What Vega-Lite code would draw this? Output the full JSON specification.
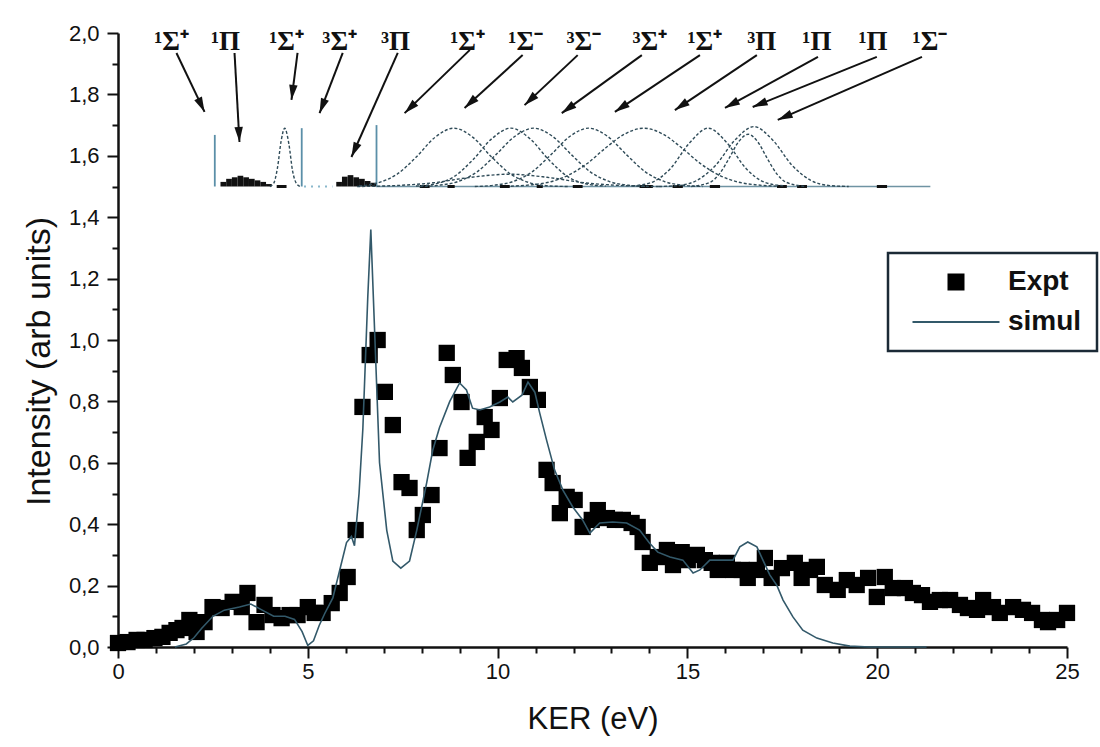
{
  "$schema": "https://vega.github.io/schema/vega-lite/v6.json",
  "width": 949,
  "height": 614,
  "autosize": {"type": "none"},
  "padding": {"left": 118, "top": 33, "right": 33, "bottom": 100},
  "background": "white",
  "config": {
    "view": {"stroke": null},
    "font": "Liberation Sans",
    "axis": {
      "grid": false,
      "domainColor": "#111111",
      "domainWidth": 2.5,
      "tickColor": "#111111",
      "tickWidth": 2,
      "labelColor": "#111111",
      "titleColor": "#111111",
      "labelFont": "Liberation Sans",
      "titleFont": "Liberation Sans",
      "labelFontSize": 22,
      "titleFontWeight": "normal",
      "labelFlush": false,
      "labelOverlap": false,
      "labelBound": false
    }
  },
  "datasets": {
    "expt": [
      {"x":0.0,"y":0.013,"series":"Expt"},{"x":0.25,"y":0.016,"series":"Expt"},{"x":0.49,"y":0.023,"series":"Expt"},{"x":0.70,"y":0.023,"series":"Expt"},{"x":0.96,"y":0.029,"series":"Expt"},{"x":1.17,"y":0.033,"series":"Expt"},{"x":1.36,"y":0.046,"series":"Expt"},{"x":1.54,"y":0.055,"series":"Expt"},{"x":1.70,"y":0.062,"series":"Expt"},{"x":1.88,"y":0.088,"series":"Expt"},
      {"x":2.07,"y":0.049,"series":"Expt"},{"x":2.28,"y":0.081,"series":"Expt"},{"x":2.49,"y":0.130,"series":"Expt"},{"x":2.73,"y":0.127,"series":"Expt"},{"x":3.02,"y":0.147,"series":"Expt"},{"x":3.26,"y":0.130,"series":"Expt"},{"x":3.41,"y":0.176,"series":"Expt"},{"x":3.65,"y":0.081,"series":"Expt"},{"x":3.86,"y":0.137,"series":"Expt"},{"x":4.07,"y":0.104,"series":"Expt"},
      {"x":4.31,"y":0.094,"series":"Expt"},{"x":4.52,"y":0.104,"series":"Expt"},{"x":4.73,"y":0.104,"series":"Expt"},{"x":5.00,"y":0.130,"series":"Expt"},{"x":5.18,"y":0.111,"series":"Expt"},{"x":5.39,"y":0.111,"series":"Expt"},{"x":5.63,"y":0.143,"series":"Expt"},{"x":5.84,"y":0.176,"series":"Expt"},{"x":6.05,"y":0.228,"series":"Expt"},{"x":6.26,"y":0.381,"series":"Expt"},
      {"x":6.44,"y":0.782,"series":"Expt"},{"x":6.63,"y":0.951,"series":"Expt"},{"x":6.84,"y":1.000,"series":"Expt"},{"x":7.03,"y":0.831,"series":"Expt"},{"x":7.24,"y":0.723,"series":"Expt"},{"x":7.47,"y":0.537,"series":"Expt"},{"x":7.68,"y":0.518,"series":"Expt"},{"x":7.87,"y":0.381,"series":"Expt"},{"x":8.03,"y":0.430,"series":"Expt"},{"x":8.26,"y":0.495,"series":"Expt"},
      {"x":8.47,"y":0.648,"series":"Expt"},{"x":8.66,"y":0.958,"series":"Expt"},{"x":8.82,"y":0.886,"series":"Expt"},{"x":9.05,"y":0.798,"series":"Expt"},{"x":9.21,"y":0.616,"series":"Expt"},{"x":9.45,"y":0.668,"series":"Expt"},{"x":9.66,"y":0.749,"series":"Expt"},{"x":9.84,"y":0.707,"series":"Expt"},{"x":10.06,"y":0.811,"series":"Expt"},{"x":10.24,"y":0.935,"series":"Expt"},
      {"x":10.50,"y":0.941,"series":"Expt"},{"x":10.64,"y":0.909,"series":"Expt"},{"x":10.85,"y":0.847,"series":"Expt"},{"x":11.06,"y":0.805,"series":"Expt"},{"x":11.29,"y":0.577,"series":"Expt"},{"x":11.45,"y":0.534,"series":"Expt"},{"x":11.64,"y":0.436,"series":"Expt"},{"x":11.82,"y":0.489,"series":"Expt"},{"x":12.03,"y":0.479,"series":"Expt"},{"x":12.24,"y":0.391,"series":"Expt"},
      {"x":12.48,"y":0.414,"series":"Expt"},{"x":12.64,"y":0.446,"series":"Expt"},{"x":12.88,"y":0.420,"series":"Expt"},{"x":13.09,"y":0.414,"series":"Expt"},{"x":13.30,"y":0.414,"series":"Expt"},{"x":13.53,"y":0.404,"series":"Expt"},{"x":13.69,"y":0.391,"series":"Expt"},{"x":13.82,"y":0.342,"series":"Expt"},{"x":14.01,"y":0.274,"series":"Expt"},{"x":14.22,"y":0.293,"series":"Expt"},
      {"x":14.46,"y":0.316,"series":"Expt"},{"x":14.62,"y":0.267,"series":"Expt"},{"x":14.85,"y":0.309,"series":"Expt"},{"x":15.01,"y":0.283,"series":"Expt"},{"x":15.25,"y":0.300,"series":"Expt"},{"x":15.46,"y":0.283,"series":"Expt"},{"x":15.64,"y":0.274,"series":"Expt"},{"x":15.80,"y":0.251,"series":"Expt"},{"x":16.04,"y":0.274,"series":"Expt"},{"x":16.20,"y":0.251,"series":"Expt"},
      {"x":16.43,"y":0.251,"series":"Expt"},{"x":16.59,"y":0.225,"series":"Expt"},{"x":16.83,"y":0.251,"series":"Expt"},{"x":17.04,"y":0.290,"series":"Expt"},{"x":17.22,"y":0.225,"series":"Expt"},{"x":17.49,"y":0.257,"series":"Expt"},{"x":17.83,"y":0.274,"series":"Expt"},{"x":18.01,"y":0.225,"series":"Expt"},{"x":18.23,"y":0.251,"series":"Expt"},{"x":18.41,"y":0.261,"series":"Expt"},
      {"x":18.62,"y":0.202,"series":"Expt"},{"x":18.96,"y":0.186,"series":"Expt"},{"x":19.20,"y":0.218,"series":"Expt"},{"x":19.46,"y":0.202,"series":"Expt"},{"x":19.76,"y":0.225,"series":"Expt"},{"x":19.99,"y":0.163,"series":"Expt"},{"x":20.20,"y":0.228,"series":"Expt"},{"x":20.41,"y":0.192,"series":"Expt"},{"x":20.73,"y":0.192,"series":"Expt"},{"x":20.94,"y":0.176,"series":"Expt"},
      {"x":21.18,"y":0.169,"series":"Expt"},{"x":21.39,"y":0.147,"series":"Expt"},{"x":21.65,"y":0.153,"series":"Expt"},{"x":21.92,"y":0.153,"series":"Expt"},{"x":22.18,"y":0.137,"series":"Expt"},{"x":22.39,"y":0.127,"series":"Expt"},{"x":22.63,"y":0.121,"series":"Expt"},{"x":22.79,"y":0.153,"series":"Expt"},{"x":23.05,"y":0.130,"series":"Expt"},{"x":23.23,"y":0.111,"series":"Expt"},
      {"x":23.58,"y":0.130,"series":"Expt"},{"x":23.84,"y":0.121,"series":"Expt"},{"x":24.08,"y":0.111,"series":"Expt"},{"x":24.34,"y":0.088,"series":"Expt"},{"x":24.50,"y":0.081,"series":"Expt"},{"x":24.74,"y":0.088,"series":"Expt"},{"x":25.00,"y":0.111,"series":"Expt"}
    ],
    "simul": [
      {"x":1.5,"y":0.0,"series":"simul"},{"x":1.8,"y":0.01,"series":"simul"},{"x":2.0,"y":0.03,"series":"simul"},{"x":2.2,"y":0.06,"series":"simul"},{"x":2.5,"y":0.10,"series":"simul"},{"x":2.8,"y":0.12,"series":"simul"},{"x":3.2,"y":0.13,"series":"simul"},{"x":3.5,"y":0.14,"series":"simul"},{"x":3.8,"y":0.12,"series":"simul"},{"x":4.1,"y":0.10,"series":"simul"},
      {"x":4.4,"y":0.10,"series":"simul"},{"x":4.65,"y":0.09,"series":"simul"},{"x":4.85,"y":0.05,"series":"simul"},{"x":5.0,"y":0.005,"series":"simul"},{"x":5.15,"y":0.02,"series":"simul"},{"x":5.3,"y":0.07,"series":"simul"},{"x":5.45,"y":0.11,"series":"simul"},{"x":5.66,"y":0.16,"series":"simul"},{"x":5.84,"y":0.25,"series":"simul"},{"x":6.02,"y":0.34,"series":"simul"},
      {"x":6.15,"y":0.36,"series":"simul"},{"x":6.23,"y":0.33,"series":"simul"},{"x":6.35,"y":0.50,"series":"simul"},{"x":6.45,"y":0.71,"series":"simul"},{"x":6.58,"y":1.14,"series":"simul"},{"x":6.66,"y":1.36,"series":"simul"},{"x":6.76,"y":1.03,"series":"simul"},{"x":6.89,"y":0.60,"series":"simul"},{"x":7.08,"y":0.38,"series":"simul"},{"x":7.24,"y":0.28,"series":"simul"},
      {"x":7.45,"y":0.257,"series":"simul"},{"x":7.68,"y":0.28,"series":"simul"},{"x":7.87,"y":0.38,"series":"simul"},{"x":8.13,"y":0.534,"series":"simul"},{"x":8.29,"y":0.64,"series":"simul"},{"x":8.47,"y":0.715,"series":"simul"},{"x":8.74,"y":0.80,"series":"simul"},{"x":9.0,"y":0.86,"series":"simul"},{"x":9.18,"y":0.837,"series":"simul"},{"x":9.34,"y":0.778,"series":"simul"},
      {"x":9.53,"y":0.772,"series":"simul"},{"x":9.79,"y":0.782,"series":"simul"},{"x":10.06,"y":0.798,"series":"simul"},{"x":10.27,"y":0.814,"series":"simul"},{"x":10.4,"y":0.798,"series":"simul"},{"x":10.64,"y":0.82,"series":"simul"},{"x":10.8,"y":0.863,"series":"simul"},{"x":10.98,"y":0.83,"series":"simul"},{"x":11.11,"y":0.762,"series":"simul"},{"x":11.29,"y":0.674,"series":"simul"},
      {"x":11.5,"y":0.577,"series":"simul"},{"x":11.72,"y":0.511,"series":"simul"},{"x":11.98,"y":0.456,"series":"simul"},{"x":12.24,"y":0.414,"series":"simul"},{"x":12.43,"y":0.371,"series":"simul"},{"x":12.69,"y":0.404,"series":"simul"},{"x":13.03,"y":0.407,"series":"simul"},{"x":13.4,"y":0.404,"series":"simul"},{"x":13.74,"y":0.381,"series":"simul"},{"x":14.0,"y":0.339,"series":"simul"},
      {"x":14.22,"y":0.309,"series":"simul"},{"x":14.54,"y":0.293,"series":"simul"},{"x":14.88,"y":0.283,"series":"simul"},{"x":15.15,"y":0.241,"series":"simul"},{"x":15.33,"y":0.251,"series":"simul"},{"x":15.59,"y":0.283,"series":"simul"},{"x":15.93,"y":0.283,"series":"simul"},{"x":16.2,"y":0.283,"series":"simul"},{"x":16.38,"y":0.326,"series":"simul"},{"x":16.59,"y":0.342,"series":"simul"},
      {"x":16.83,"y":0.326,"series":"simul"},{"x":16.99,"y":0.283,"series":"simul"},{"x":17.17,"y":0.235,"series":"simul"},{"x":17.36,"y":0.2,"series":"simul"},{"x":17.52,"y":0.153,"series":"simul"},{"x":17.78,"y":0.098,"series":"simul"},{"x":18.04,"y":0.055,"series":"simul"},{"x":18.41,"y":0.029,"series":"simul"},{"x":18.83,"y":0.013,"series":"simul"},{"x":19.28,"y":0.003,"series":"simul"},
      {"x":19.8,"y":0.0,"series":"simul"},{"x":21.3,"y":0.0,"series":"simul"}
    ],
    "comps": [
      {"comp":"n1","x":4.0,"y":1.5},{"comp":"n1","x":4.1,"y":1.51},{"comp":"n1","x":4.2,"y":1.56},{"comp":"n1","x":4.3,"y":1.65},{"comp":"n1","x":4.39,"y":1.69},{"comp":"n1","x":4.5,"y":1.64},{"comp":"n1","x":4.6,"y":1.55},{"comp":"n1","x":4.7,"y":1.51},{"comp":"n1","x":4.8,"y":1.5},
      {"comp":"g1","x":6.35,"y":1.502},{"comp":"g1","x":6.85,"y":1.512},{"comp":"g1","x":7.35,"y":1.54},{"comp":"g1","x":7.85,"y":1.595},{"comp":"g1","x":8.35,"y":1.66},{"comp":"g1","x":8.85,"y":1.69},{"comp":"g1","x":9.35,"y":1.66},{"comp":"g1","x":9.85,"y":1.595},{"comp":"g1","x":10.35,"y":1.54},{"comp":"g1","x":10.85,"y":1.512},{"comp":"g1","x":11.35,"y":1.502},{"comp":"g1","x":11.85,"y":1.5},
      {"comp":"g2","x":7.85,"y":1.5015},{"comp":"g2","x":8.35,"y":1.508},{"comp":"g2","x":8.85,"y":1.532},{"comp":"g2","x":9.35,"y":1.587},{"comp":"g2","x":9.85,"y":1.656},{"comp":"g2","x":10.35,"y":1.69},{"comp":"g2","x":10.85,"y":1.656},{"comp":"g2","x":11.35,"y":1.587},{"comp":"g2","x":11.85,"y":1.532},{"comp":"g2","x":12.35,"y":1.508},{"comp":"g2","x":12.85,"y":1.5015},
      {"comp":"g3","x":7.95,"y":1.5},{"comp":"g3","x":8.45,"y":1.504},{"comp":"g3","x":8.95,"y":1.516},{"comp":"g3","x":9.45,"y":1.547},{"comp":"g3","x":9.95,"y":1.603},{"comp":"g3","x":10.45,"y":1.663},{"comp":"g3","x":10.95,"y":1.69},{"comp":"g3","x":11.45,"y":1.663},{"comp":"g3","x":11.95,"y":1.603},{"comp":"g3","x":12.45,"y":1.547},{"comp":"g3","x":12.95,"y":1.516},{"comp":"g3","x":13.45,"y":1.504},{"comp":"g3","x":13.95,"y":1.5},
      {"comp":"g4","x":9.4,"y":1.5},{"comp":"g4","x":9.9,"y":1.504},{"comp":"g4","x":10.4,"y":1.516},{"comp":"g4","x":10.9,"y":1.547},{"comp":"g4","x":11.4,"y":1.603},{"comp":"g4","x":11.9,"y":1.663},{"comp":"g4","x":12.4,"y":1.69},{"comp":"g4","x":12.9,"y":1.663},{"comp":"g4","x":13.4,"y":1.603},{"comp":"g4","x":13.9,"y":1.547},{"comp":"g4","x":14.4,"y":1.516},{"comp":"g4","x":14.9,"y":1.504},{"comp":"g4","x":15.4,"y":1.5},
      {"comp":"g5","x":10.35,"y":1.501},{"comp":"g5","x":10.85,"y":1.505},{"comp":"g5","x":11.35,"y":1.514},{"comp":"g5","x":11.85,"y":1.536},{"comp":"g5","x":12.35,"y":1.574},{"comp":"g5","x":12.85,"y":1.626},{"comp":"g5","x":13.35,"y":1.671},{"comp":"g5","x":13.85,"y":1.69},{"comp":"g5","x":14.35,"y":1.671},{"comp":"g5","x":14.85,"y":1.626},{"comp":"g5","x":15.35,"y":1.574},{"comp":"g5","x":15.85,"y":1.536},{"comp":"g5","x":16.35,"y":1.514},{"comp":"g5","x":16.85,"y":1.505},{"comp":"g5","x":17.35,"y":1.501},
      {"comp":"g6","x":13.55,"y":1.502},{"comp":"g6","x":14.05,"y":1.513},{"comp":"g6","x":14.55,"y":1.558},{"comp":"g6","x":15.05,"y":1.641},{"comp":"g6","x":15.55,"y":1.69},{"comp":"g6","x":16.05,"y":1.641},{"comp":"g6","x":16.55,"y":1.558},{"comp":"g6","x":17.05,"y":1.513},{"comp":"g6","x":17.55,"y":1.502},
      {"comp":"g7","x":14.25,"y":1.5},{"comp":"g7","x":14.75,"y":1.503},{"comp":"g7","x":15.25,"y":1.52},{"comp":"g7","x":15.75,"y":1.57},{"comp":"g7","x":16.25,"y":1.651},{"comp":"g7","x":16.75,"y":1.695},{"comp":"g7","x":17.25,"y":1.651},{"comp":"g7","x":17.75,"y":1.57},{"comp":"g7","x":18.25,"y":1.52},{"comp":"g7","x":18.75,"y":1.503},{"comp":"g7","x":19.25,"y":1.5},
      {"comp":"g8","x":15.1,"y":1.5},{"comp":"g8","x":15.6,"y":1.514},{"comp":"g8","x":15.85,"y":1.542},{"comp":"g8","x":16.1,"y":1.592},{"comp":"g8","x":16.35,"y":1.646},{"comp":"g8","x":16.6,"y":1.67},{"comp":"g8","x":16.85,"y":1.646},{"comp":"g8","x":17.1,"y":1.592},{"comp":"g8","x":17.35,"y":1.542},{"comp":"g8","x":17.6,"y":1.514},{"comp":"g8","x":18.1,"y":1.5},
      {"comp":"l1","x":6.3,"y":1.5},{"comp":"l1","x":7.3,"y":1.503},{"comp":"l1","x":8.3,"y":1.512},{"comp":"l1","x":9.3,"y":1.53},{"comp":"l1","x":10.3,"y":1.54},{"comp":"l1","x":11.3,"y":1.53},{"comp":"l1","x":12.3,"y":1.512},{"comp":"l1","x":13.3,"y":1.503},{"comp":"l1","x":14.3,"y":1.5}
    ],
    "bars": [
      {"x":2.70,"x2":2.85,"y":1.515,"y2":1.5},{"x":2.85,"x2":3.0,"y":1.525,"y2":1.5},{"x":3.0,"x2":3.15,"y":1.53,"y2":1.5},{"x":3.15,"x2":3.3,"y":1.535,"y2":1.5},{"x":3.3,"x2":3.45,"y":1.53,"y2":1.5},{"x":3.45,"x2":3.6,"y":1.525,"y2":1.5},{"x":3.6,"x2":3.75,"y":1.52,"y2":1.5},{"x":3.75,"x2":3.9,"y":1.515,"y2":1.5},{"x":3.9,"x2":4.05,"y":1.508,"y2":1.5},
      {"x":5.75,"x2":5.9,"y":1.515,"y2":1.5},{"x":5.9,"x2":6.05,"y":1.532,"y2":1.5},{"x":6.05,"x2":6.2,"y":1.537,"y2":1.5},{"x":6.2,"x2":6.35,"y":1.53,"y2":1.5},{"x":6.35,"x2":6.5,"y":1.525,"y2":1.5},{"x":6.5,"x2":6.65,"y":1.518,"y2":1.5},{"x":6.65,"x2":6.8,"y":1.512,"y2":1.5}
    ],
    "segs": [
      {"kind":"base","x":6.8,"x2":21.4,"y":1.5},
      {"kind":"dots","x":4.9,"x2":5.65,"y":1.5},
      {"kind":"dash","x":4.18,"x2":4.44,"y":1.5},{"kind":"dash","x":7.95,"x2":8.21,"y":1.5},{"kind":"dash","x":8.68,"x2":8.87,"y":1.5},{"kind":"dash","x":10.06,"x2":10.32,"y":1.5},{"kind":"dash","x":11.03,"x2":11.19,"y":1.5},{"kind":"dash","x":11.98,"x2":12.24,"y":1.5},{"kind":"dash","x":13.74,"x2":14.09,"y":1.5},{"kind":"dash","x":14.61,"x2":14.88,"y":1.5},{"kind":"dash","x":15.59,"x2":15.86,"y":1.5},{"kind":"dash","x":17.36,"x2":17.62,"y":1.5},{"kind":"dash","x":17.89,"x2":18.15,"y":1.5},{"kind":"dash","x":19.99,"x2":20.26,"y":1.5}
    ],
    "vlines": [
      {"x":2.55,"y":1.5,"y2":1.668},{"x":4.84,"y":1.5,"y2":1.69},{"x":6.81,"y":1.5,"y2":1.70}
    ],
    "arrows": [
      {"x":2.28,"y":1.743,"x2":1.54,"y2":1.935},{"x":3.20,"y":1.645,"x2":3.07,"y2":1.935},{"x":4.57,"y":1.782,"x2":4.73,"y2":1.935},{"x":5.31,"y":1.739,"x2":5.92,"y2":1.935},{"x":6.15,"y":1.596,"x2":7.37,"y2":1.935},{"x":7.55,"y":1.739,"x2":9.27,"y2":1.945},{"x":9.13,"y":1.756,"x2":10.66,"y2":1.928},
      {"x":10.71,"y":1.765,"x2":12.11,"y2":1.928},{"x":11.69,"y":1.739,"x2":13.80,"y2":1.928},{"x":13.09,"y":1.743,"x2":15.33,"y2":1.928},{"x":14.67,"y":1.749,"x2":16.83,"y2":1.928},{"x":15.99,"y":1.756,"x2":18.44,"y2":1.922},{"x":16.72,"y":1.759,"x2":19.99,"y2":1.922},{"x":17.38,"y":1.717,"x2":21.18,"y2":1.922}
    ],
    "labels": [
      {"x":1.41,"y":1.945,"label":"¹Σ⁺"},{"x":2.83,"y":1.945,"label":"¹Π"},{"x":4.44,"y":1.945,"label":"¹Σ⁺"},{"x":5.84,"y":1.945,"label":"³Σ⁺"},{"x":7.31,"y":1.945,"label":"³Π"},{"x":9.21,"y":1.945,"label":"¹Σ⁺"},{"x":10.74,"y":1.945,"label":"¹Σ⁻"},
      {"x":12.27,"y":1.945,"label":"³Σ⁻"},{"x":14.01,"y":1.945,"label":"³Σ⁺"},{"x":15.46,"y":1.945,"label":"¹Σ⁺"},{"x":16.96,"y":1.945,"label":"³Π"},{"x":18.41,"y":1.945,"label":"¹Π"},{"x":19.89,"y":1.945,"label":"¹Π"},{"x":21.39,"y":1.945,"label":"¹Σ⁻"}
    ]
  },
  "encoding": {
    "x": {
      "field": "x",
      "type": "quantitative",
      "scale": {"domain": [0, 25], "nice": false, "zero": false},
      "axis": {
        "title": "KER (eV)",
        "titleFontSize": 31,
        "titlePadding": 22,
        "values": [0,1,2,3,4,5,6,7,8,9,10,11,12,13,14,15,16,17,18,19,20,21,22,23,24,25],
        "labelExpr": "datum.value % 5 === 0 ? datum.label : ''",
        "tickSize": {"condition": {"test": "datum.value % 5 === 0", "value": 11}, "value": 6},
        "labelPadding": 3
      }
    },
    "y": {
      "field": "y",
      "type": "quantitative",
      "scale": {"domain": [0, 2], "nice": false, "zero": false},
      "axis": {
        "title": "Intensity (arb units)",
        "titleFontSize": 34,
        "titlePadding": 12,
        "titleY": 328,
        "values": [0,0.1,0.2,0.3,0.4,0.5,0.6,0.7,0.8,0.9,1,1.1,1.2,1.3,1.4,1.5,1.6,1.7,1.8,1.9,2],
        "labelExpr": "round(datum.value * 10) % 2 === 0 ? replace(format(datum.value, '.1f'), '.', ',') : ''",
        "tickSize": {"condition": {"test": "round(datum.value * 10) % 2 === 0", "value": 11}, "value": 6},
        "labelPadding": 8
      }
    }
  },
  "layer": [
    {
      "data": {"name": "segs"},
      "transform": [{"filter": "datum.kind === 'base'"}],
      "mark": {"type": "rule", "color": "#6f93a3", "strokeWidth": 1.4},
      "encoding": {"x2": {"field": "x2"}}
    },
    {
      "data": {"name": "segs"},
      "transform": [{"filter": "datum.kind === 'dots'"}],
      "mark": {"type": "rule", "color": "#8ab8cc", "strokeWidth": 2, "strokeDash": [2, 5]},
      "encoding": {"x2": {"field": "x2"}}
    },
    {
      "data": {"name": "segs"},
      "transform": [{"filter": "datum.kind === 'dash'"}],
      "mark": {"type": "rule", "color": "#111111", "strokeWidth": 3},
      "encoding": {"x2": {"field": "x2"}}
    },
    {
      "data": {"name": "vlines"},
      "mark": {"type": "rule", "color": "#5b8fa8", "strokeWidth": 1.8},
      "encoding": {"y2": {"field": "y2"}}
    },
    {
      "data": {"name": "bars"},
      "mark": {"type": "rect", "color": "#111111"},
      "encoding": {"x2": {"field": "x2"}, "y2": {"field": "y2"}}
    },
    {
      "data": {"name": "comps"},
      "mark": {"type": "line", "color": "#2f4b58", "strokeWidth": 1.4, "strokeDash": [3, 2], "interpolate": "monotone"},
      "encoding": {"detail": {"field": "comp", "type": "nominal"}}
    },
    {
      "data": {"name": "expt"},
      "mark": {"type": "point", "shape": "square", "filled": true, "size": 265, "opacity": 1},
      "encoding": {
        "color": {
          "field": "series",
          "type": "nominal",
          "scale": {"domain": ["Expt", "simul"], "range": ["#000000", "#33596a"]},
          "legend": {
            "orient": "none", "legendX": 770, "legendY": 220, "title": null,
            "padding": 15, "strokeColor": "#1b2a36", "fillColor": "white",
            "labelFont": "Liberation Sans", "labelFontSize": 28, "labelFontWeight": "bold", "labelColor": "#111111",
            "symbolSize": 100, "symbolOffset": 39, "labelOffset": 38, "rowPadding": 12,
            "encode": {
              "legend": {"update": {"strokeWidth": {"value": 2.5}}},
              "symbols": {"update": {
                "shape": {"signal": "datum.value === 'Expt' ? 'M-1.5,-1.5H1.5V1.5H-1.5Z' : 'M-8.7,0H8.7'"},
                "fill": {"signal": "datum.value === 'Expt' ? '#000000' : 'transparent'"},
                "stroke": {"signal": "datum.value === 'Expt' ? '#000000' : '#1b2a36'"},
                "strokeWidth": {"value": 2},
                "size": {"value": 100},
                "opacity": {"value": 1}
              }}
            }
          }
        }
      }
    },
    {
      "data": {"name": "simul"},
      "mark": {"type": "line", "strokeWidth": 1.6},
      "encoding": {
        "color": {
          "field": "series",
          "type": "nominal",
          "scale": {"domain": ["Expt", "simul"], "range": ["#000000", "#33596a"]},
          "legend": {
            "orient": "none", "legendX": 770, "legendY": 220, "title": null,
            "padding": 15, "strokeColor": "#1b2a36", "fillColor": "white",
            "labelFont": "Liberation Sans", "labelFontSize": 28, "labelFontWeight": "bold", "labelColor": "#111111",
            "symbolSize": 100, "symbolOffset": 39, "labelOffset": 38, "rowPadding": 12,
            "encode": {
              "legend": {"update": {"strokeWidth": {"value": 2.5}}},
              "symbols": {"update": {
                "shape": {"signal": "datum.value === 'Expt' ? 'M-1.5,-1.5H1.5V1.5H-1.5Z' : 'M-8.7,0H8.7'"},
                "fill": {"signal": "datum.value === 'Expt' ? '#000000' : 'transparent'"},
                "stroke": {"signal": "datum.value === 'Expt' ? '#000000' : '#1b2a36'"},
                "strokeWidth": {"value": 2},
                "size": {"value": 100},
                "opacity": {"value": 1}
              }}
            }
          }
        }
      }
    },
    {
      "data": {"name": "arrows"},
      "mark": {"type": "rule", "color": "#111111", "strokeWidth": 2},
      "encoding": {"x2": {"field": "x2"}, "y2": {"field": "y2"}}
    },
    {
      "data": {"name": "arrows"},
      "transform": [{"calculate": "(atan2((datum.x - datum.x2) * 37.96, (datum.y - datum.y2) * 307) * 180 / PI + 360) % 360", "as": "ang"}],
      "mark": {"type": "point", "shape": "M0,0L0.45,1.6L-0.45,1.6Z", "filled": true, "size": 350, "color": "#111111", "opacity": 1},
      "encoding": {"angle": {"field": "ang", "type": "quantitative", "scale": null}}
    },
    {
      "data": {"name": "labels"},
      "mark": {"type": "text", "font": "Liberation Serif", "fontWeight": "bold", "fontSize": 27, "align": "center", "baseline": "alphabetic", "color": "#111111"},
      "encoding": {"text": {"field": "label", "type": "nominal"}}
    }
  ]
}
